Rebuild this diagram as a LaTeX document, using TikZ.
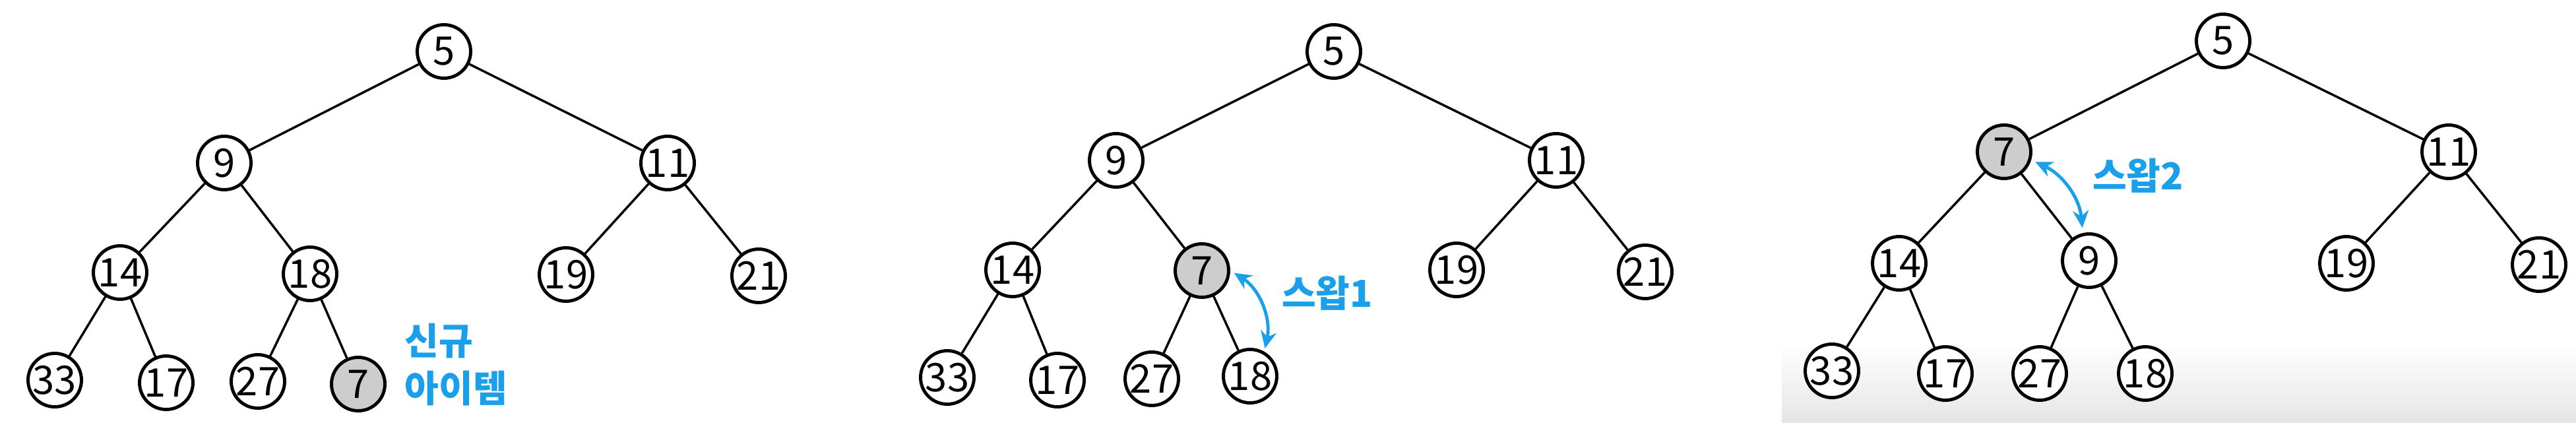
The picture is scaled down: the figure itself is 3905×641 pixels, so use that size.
\documentclass[tikz,border=0pt]{standalone}
\usepackage{fontspec}
\setmainfont{Noto Sans CJK KR}
\usetikzlibrary{arrows.meta}
\definecolor{swapblue}{HTML}{1A9FEA}
\definecolor{newgray}{HTML}{CDCDCD}
\tikzset{
    heap/.style={circle,draw,line width=1.4pt,minimum size=8.1mm,inner sep=0pt,fill=white,font=\fontsize{17}{17}\selectfont},
    newitem/.style={heap,fill=newgray},
    every edge/.style={draw,line width=1pt},
    swaparrow/.style={draw=swapblue,line width=1.4pt,{Stealth[length=2.6mm,width=2.4mm]}-{Stealth[length=2.6mm,width=2.4mm]}},
    note/.style={text=swapblue,font=\fontsize{16}{20.5}\selectfont\bfseries,align=left,inner sep=0pt},
}

\begin{document}
\begin{tikzpicture}[x=0.1mm,y=-0.1mm]
    \useasboundingbox (0,0) rectangle (3905,641);
    \fill[white] (0,0) rectangle (3905,641);
    \shade[top color=white,bottom color=black!10] (2701,520) rectangle (3905,641);

    % new item at the bottom
    \node[heap] (a5) at (673,78) {5};
    \node[heap] (a9) at (340,247) {9};
    \node[heap] (a11) at (1012,247) {11};
    \node[heap] (a14) at (182,413) {14};
    \node[heap] (a18) at (470,415) {18};
    \node[heap] (a19) at (858,416) {19};
    \node[heap] (a21) at (1150,418) {21};
    \node[heap] (a33) at (83,576) {33};
    \node[heap] (a17) at (252,580) {17};
    \node[heap] (a27) at (391,578) {27};
    \node[newitem] (a7) at (543,582) {7};
    \node[note,anchor=west] (anew) at (613,553) {신규\\아이템};

    \path
    (a5) edge (a9)
    (a5) edge (a11)
    (a9) edge (a14)
    (a9) edge (a18)
    (a11) edge (a19)
    (a11) edge (a21)
    (a14) edge (a33)
    (a14) edge (a17)
    (a18) edge (a27)
    (a18) edge (a7);

    % swap 1
    \node[heap] (b5) at (2022,78) {5};
    \node[heap] (b9) at (1692,243) {9};
    \node[heap] (b11) at (2359,243) {11};
    \node[heap] (b14) at (1535,409) {14};
    \node[newitem] (b7) at (1822,410) {7};
    \node[heap] (b19) at (2208,409) {19};
    \node[heap] (b21) at (2494,412) {21};
    \node[heap] (b33) at (1436,572) {33};
    \node[heap] (b17) at (1603,576) {17};
    \node[heap] (b27) at (1746,574) {27};
    \node[heap] (b18) at (1895,570) {18};
    \node[note] (bswap) at (2012,444) {스왑1};

    \path
    (b5) edge (b9)
    (b5) edge (b11)
    (b9) edge (b14)
    (b9) edge (b7)
    (b11) edge (b19)
    (b11) edge (b21)
    (b14) edge (b33)
    (b14) edge (b17)
    (b7) edge (b27)
    (b7) edge (b18);
    \draw[swaparrow,shorten <=0.7mm,shorten >=0.5mm] (b7.east) to[bend left=35] (b18.60);

    % swap 2
    \node[heap] (c5) at (3370,62) {5};
    \node[newitem] (c7) at (3038,230) {7};
    \node[heap] (c11) at (3712,230) {11};
    \node[heap] (c14) at (2879,399) {14};
    \node[heap] (c9) at (3167,395) {9};
    \node[heap] (c19) at (3557,399) {19};
    \node[heap] (c21) at (3849,401) {21};
    \node[heap] (c33) at (2777,562) {33};
    \node[heap] (c17) at (2949,566) {17};
    \node[heap] (c27) at (3092,566) {27};
    \node[heap] (c18) at (3252,566) {18};
    \node[note] (cswap) at (3241,266) {스왑2};

    \path
    (c5) edge (c7)
    (c5) edge (c11)
    (c7) edge (c14)
    (c7) edge (c9)
    (c11) edge (c19)
    (c11) edge (c21)
    (c14) edge (c33)
    (c14) edge (c17)
    (c9) edge (c27)
    (c9) edge (c18);
    \draw[swaparrow,shorten <=0.7mm,shorten >=0.8mm] (c7.-17) to[bend left=30] (c9.103);
\end{tikzpicture}
\end{document}
